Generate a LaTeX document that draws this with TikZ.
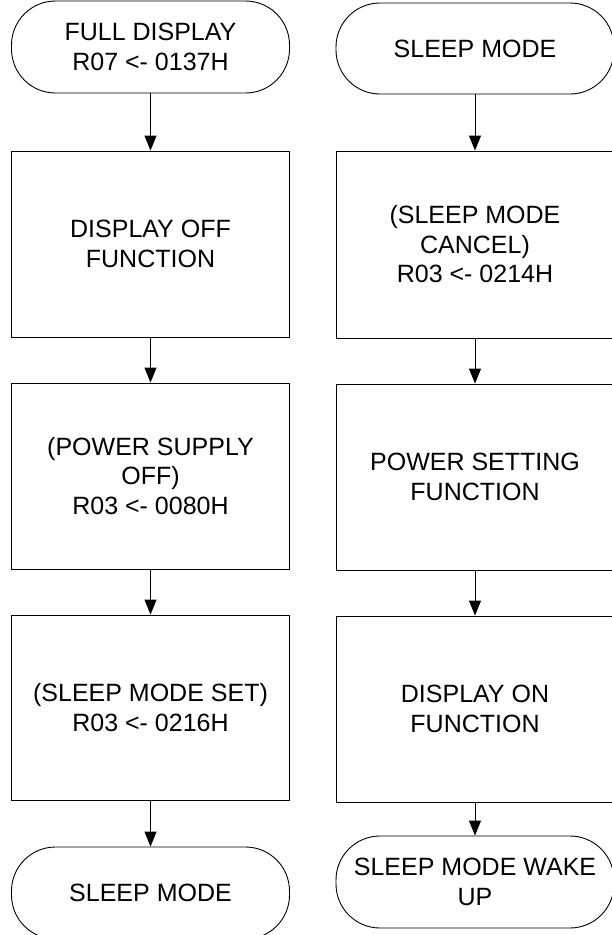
\documentclass[tikz,border=0pt]{standalone}
\usepackage{fontspec}
\setmainfont{Liberation Sans}
\usetikzlibrary{arrows.meta}
\tikzset{
  box/.style={draw=black, line width=0.9pt, rectangle, minimum width=278pt, align=center,
    inner sep=0pt, font=\fontsize{25}{29.5}\selectfont},
  term/.style={box, rounded corners=44pt},
  flow/.style={draw=black, line width=0.9pt, -{Triangle[width=12pt,length=15pt]}}
}
\begin{document}
\begin{tikzpicture}[x=1pt,y=1pt]
\useasboundingbox (0,0) rectangle (612,-935);
\clip (0,0) rectangle (612,-935);
% left column
\node[term, minimum height=92pt] (lt1) at (150.5,-47) {FULL DISPLAY\\R07 <- 0137H};
\node[box, minimum height=186pt] (lb1) at (150.5,-244) {DISPLAY OFF\\FUNCTION};
\node[box, minimum height=186pt] (lb2) at (150.5,-476) {(POWER SUPPLY\\OFF)\\R03 <- 0080H};
\node[box, minimum height=185pt] (lb3) at (150.5,-707.5) {(SLEEP MODE SET)\\R03 <- 0216H};
\node[term, minimum height=92pt] (lt2) at (150.5,-893) {SLEEP MODE};
% right column
\node[term, minimum height=91pt] (rt1) at (475,-48.5) {SLEEP MODE};
\node[box, minimum height=187pt] (rb1) at (475,-244.5) {(SLEEP MODE\\CANCEL)\\R03 <- 0214H};
\node[box, minimum height=186pt] (rb2) at (475,-477) {POWER SETTING\\FUNCTION};
\node[box, minimum height=186pt] (rb3) at (475,-709) {DISPLAY ON\\FUNCTION};
\node[term, minimum height=92pt] (rt2) at (475,-882) {SLEEP MODE WAKE\\UP};
% connectors
\draw[flow] (lt1) -- (lb1);
\draw[flow] (lb1) -- (lb2);
\draw[flow] (lb2) -- (lb3);
\draw[flow] (lb3) -- (lt2);
\draw[flow] (rt1) -- (rb1);
\draw[flow] (rb1) -- (rb2);
\draw[flow] (rb2) -- (rb3);
\draw[flow] (rb3) -- (rt2);
\end{tikzpicture}
\end{document}
